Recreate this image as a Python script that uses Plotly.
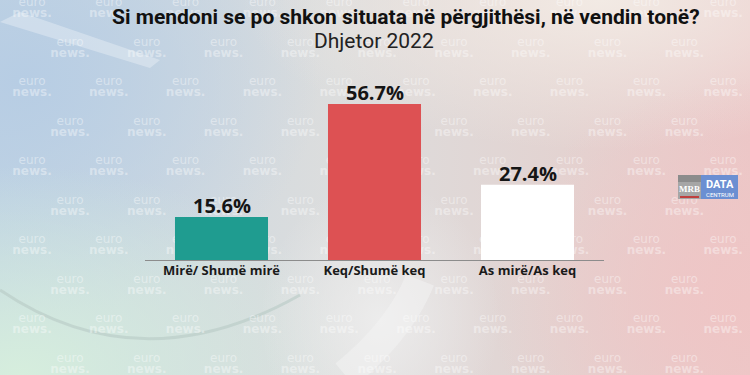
import base64
import plotly.graph_objects as go

# ---------------- data ----------------
categories = ["Mirë/ Shumë mirë", "Keq/Shumë keq", "As mirë/As keq"]
values = [15.6, 56.7, 27.4]
bar_colors = ["#1f9c90", "#dd5153", "#ffffff"]
title_text = "Si mendoni se po shkon situata në përgjithësi, në vendin tonë?"
subtitle_text = "Dhjetor 2022"

W, H = 750, 375


def fx(px):
    return px / W


def fy(py):
    return 1 - py / H


# ---------------- background (gradient image) ----------------
svg = f"""<svg xmlns='http://www.w3.org/2000/svg' width='{W}' height='{H}' viewBox='0 0 {W} {H}'>
<defs>
<linearGradient id='base' x1='0' y1='0' x2='1' y2='0'>
<stop offset='0' stop-color='#c3d5e3'/>
<stop offset='0.45' stop-color='#dcdddd'/>
<stop offset='0.75' stop-color='#e3d3d1'/>
<stop offset='1' stop-color='#ebc8c8'/>
</linearGradient>
<radialGradient id='tl' cx='0' cy='0' r='1' gradientUnits='userSpaceOnUse' gradientTransform='translate(20 80) scale(300 240)'>
<stop offset='0' stop-color='#b7cde4' stop-opacity='1'/>
<stop offset='1' stop-color='#b7cde4' stop-opacity='0'/>
</radialGradient>
<radialGradient id='bl' cx='0' cy='0' r='1' gradientUnits='userSpaceOnUse' gradientTransform='translate(20 375) scale(340 210)'>
<stop offset='0' stop-color='#d6eedd' stop-opacity='1'/>
<stop offset='1' stop-color='#d6eedd' stop-opacity='0'/>
</radialGradient>
<radialGradient id='tr' cx='0' cy='0' r='1' gradientUnits='userSpaceOnUse' gradientTransform='translate(600 0) scale(360 150)'>
<stop offset='0' stop-color='#f2eae4' stop-opacity='1'/>
<stop offset='1' stop-color='#f2eae4' stop-opacity='0'/>
</radialGradient>
<radialGradient id='br' cx='0' cy='0' r='1' gradientUnits='userSpaceOnUse' gradientTransform='translate(750 300) scale(260 220)'>
<stop offset='0' stop-color='#efc5c5' stop-opacity='1'/>
<stop offset='1' stop-color='#efc5c5' stop-opacity='0'/>
</radialGradient>
<radialGradient id='mid' cx='0' cy='0' r='1' gradientUnits='userSpaceOnUse' gradientTransform='translate(380 320) scale(120 140)'>
<stop offset='0' stop-color='#eeeeee' stop-opacity='0.9'/>
<stop offset='1' stop-color='#eeeeee' stop-opacity='0'/>
</radialGradient>
</defs>
<rect width='{W}' height='{H}' fill='url(#base)'/>
<rect width='{W}' height='{H}' fill='url(#tl)'/>
<rect width='{W}' height='{H}' fill='url(#bl)'/>
<rect width='{W}' height='{H}' fill='url(#tr)'/>
<rect width='{W}' height='{H}' fill='url(#br)'/>
<rect width='{W}' height='{H}' fill='url(#mid)'/>
<path d='M0 22 L150 68 L160 60 L20 12 Z' fill='#ffffff' opacity='0.3'/>
<path d='M0 290 Q140 385 300 295' stroke='#b8c9c4' stroke-width='3' fill='none' opacity='0.6'/>
<path d='M345 375 Q400 330 420 280' stroke='#f4f4f4' stroke-width='30' fill='none' opacity='0.5'/>
</svg>"""
bg_src = "data:image/svg+xml;base64," + base64.b64encode(svg.encode("utf-8")).decode("ascii")

# ---------------- watermark positions (decoration) ----------------
wm_x, wm_y = [], []
for i in range(10):
    yy = 8 + 39.5 * i
    x0 = 32 if i % 2 == 0 else 70
    for j in range(11):
        xx = x0 + 76.8 * j
        if xx < W + 20:
            wm_x.append(xx)
            wm_y.append(yy)

fig = go.Figure()

# watermarks on a full-page subplot below the bars
fig.add_trace(go.Scatter(
    x=wm_x, y=[v - 5 for v in wm_y], mode="text", text=["euro"] * len(wm_x),
    textfont=dict(family="DejaVu Sans", size=12, color="rgba(255,255,255,0.4)", weight="normal"),
    hoverinfo="skip", showlegend=False, xaxis="x", yaxis="y", cliponaxis=False,
))
fig.add_trace(go.Scatter(
    x=wm_x, y=[v + 6 for v in wm_y], mode="text", text=["news."] * len(wm_x),
    textfont=dict(family="DejaVu Sans", size=12, color="rgba(255,255,255,0.38)", weight="bold"),
    hoverinfo="skip", showlegend=False, xaxis="x", yaxis="y", cliponaxis=False,
))

# bars
fig.add_trace(go.Bar(
    x=categories, y=values, marker=dict(color=bar_colors, line=dict(width=0)),
    showlegend=False, xaxis="x2", yaxis="y2", hoverinfo="skip",
))

annotations = [
    dict(text=f"<b>{title_text}</b>", x=fx(406), y=fy(17), xref="paper", yref="paper",
         xanchor="center", yanchor="middle", showarrow=False,
         font=dict(family="Roboto", size=21, color="#111111")),
    dict(text=subtitle_text, x=fx(374), y=fy(41), xref="paper", yref="paper",
         xanchor="center", yanchor="middle", showarrow=False,
         font=dict(family="Roboto", size=21, color="#222222")),
    # logo
    dict(text="MRB", x=fx(689.5), y=fy(189), xref="paper", yref="paper",
         xanchor="center", yanchor="middle", showarrow=False,
         font=dict(family="Liberation Serif", size=9, color="#ffffff", weight="bold")),
    dict(text="<b>DATA</b>", x=fx(719.5), y=fy(184.5), xref="paper", yref="paper",
         xanchor="center", yanchor="middle", showarrow=False,
         font=dict(family="Roboto", size=11, color="#ffffff")),
    dict(text="CENTRUM", x=fx(719.5), y=fy(194), xref="paper", yref="paper",
         xanchor="center", yanchor="middle", showarrow=False,
         font=dict(family="Roboto", size=6, color="#ffffff")),
]
# value labels anchored to the bars through the data axes
for c, v in zip(categories, values):
    annotations.append(dict(
        text=f"<b>{v:.1f}%</b>", x=c, y=v, xref="x2", yref="y2",
        xanchor="center", yanchor="bottom", showarrow=False, yshift=-4,
        font=dict(family="Open Sans", size=20, color="#151515")))

shapes = [
    dict(type="rect", xref="paper", yref="paper", x0=fx(678), x1=fx(701), y0=fy(199), y1=fy(175),
         fillcolor="#a6a6a6", line=dict(width=0)),
    dict(type="rect", xref="paper", yref="paper", x0=fx(678), x1=fx(701), y0=fy(182), y1=fy(175),
         fillcolor="#8c8c8c", line=dict(width=0)),
    dict(type="rect", xref="paper", yref="paper", x0=fx(680), x1=fx(699), y0=fy(198), y1=fy(196),
         fillcolor="#c0403f", line=dict(width=0)),
    dict(type="rect", xref="paper", yref="paper", x0=fx(701), x1=fx(738), y0=fy(199), y1=fy(175),
         fillcolor="#6b8fd2", line=dict(width=0)),
]

plot_bottom, plot_top = 260, 67.5

fig.update_layout(
    width=W, height=H,
    margin=dict(l=0, r=0, t=0, b=0, pad=0),
    paper_bgcolor="#dcdcdc",
    plot_bgcolor="rgba(0,0,0,0)",
    images=[dict(source=bg_src, xref="paper", yref="paper", x=0, y=1, sizex=1, sizey=1,
                 xanchor="left", yanchor="top", sizing="stretch", layer="below")],
    xaxis=dict(domain=[0, 1], range=[0, W], visible=False, fixedrange=True),
    yaxis=dict(domain=[0, 1], range=[H, 0], visible=False, fixedrange=True),
    xaxis2=dict(domain=[fx(145), fx(604)], anchor="y2", type="category",
                showline=True, linecolor="#8c8c8c", linewidth=1, showgrid=False,
                ticks="", ticklabelstandoff=-2, fixedrange=True,
                tickfont=dict(family="Open Sans", size=13, color="#1a1a1a", weight="bold")),
    yaxis2=dict(domain=[fy(plot_bottom), fy(plot_top)], anchor="x2", range=[0, 70],
                visible=False, showgrid=False, fixedrange=True),
    bargap=0.392,
    annotations=annotations,
    shapes=shapes,
)

fig.write_html("out.html", config={"displayModeBar": False},
               post_script="document.body.style.margin='0px';document.body.style.overflow='hidden';")
